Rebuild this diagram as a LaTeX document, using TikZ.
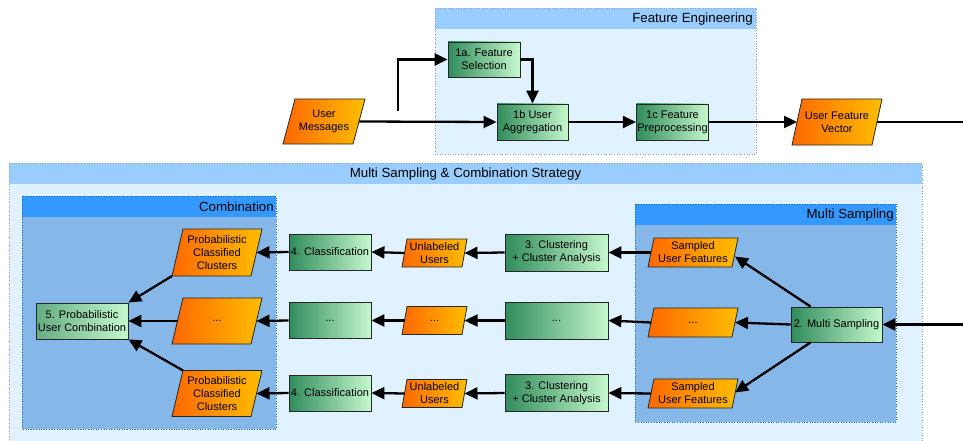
\documentclass[tikz,border=0pt]{standalone}
\usepackage{fontspec}
\setmainfont{Liberation Sans}
\usetikzlibrary{arrows.meta,calc}

\definecolor{grpHead}{RGB}{153,204,255}
\definecolor{grpBody}{RGB}{224,242,255}
\definecolor{subHead}{RGB}{51,153,255}
\definecolor{subBody}{RGB}{133,183,232}
\definecolor{grpEdge}{RGB}{150,165,185}
\definecolor{gDark}{RGB}{48,140,92}
\definecolor{gLight}{RGB}{198,248,205}
\definecolor{gMid}{RGB}{100,172,130}
\definecolor{oDark}{RGB}{255,104,0}
\definecolor{oLight}{RGB}{255,190,0}

\tikzset{
  nodefont/.style={font=\fontsize{11}{13}\selectfont},
  proc/.style={draw=black!85, line width=0.8pt, left color=gDark, right color=gLight,
    minimum height=36pt, align=center, inner sep=1pt, nodefont},
  dataFill/.style={draw=black!85, line width=0.8pt, left color=oDark, right color=oLight},
  dataText/.style={align=center, inner sep=1pt, nodefont},
  flow/.style={line width=2.3pt, -{Triangle[length=13pt,width=12pt]}},
  plain/.style={line width=2.3pt},
  grpframe/.style={draw=grpEdge, dotted, line width=0.6pt},
  titlefont/.style={font=\fontsize{13.3}{15}\selectfont},
  grptitle/.style={titlefont, anchor=east, inner sep=2pt}
}

% data item: slanted box with centred text
% #1 name, #2 x, #3 y, #4 width, #5 height, #6 slant offset, #7 text
\newcommand\datanode[7]{%
  \path[dataFill] (#2-#4/2, #3+#5/2) -- (#2-#4/2+#6, #3-#5/2) -- (#2+#4/2, #3-#5/2)
     -- (#2+#4/2-#6, #3+#5/2) -- cycle;
  \node[dataText] (#1) at (#2,#3) {#7};
  \coordinate (#1-e) at (#2+#4/2-#6/2, #3);
  \coordinate (#1-w) at (#2-#4/2+#6/2, #3);
  \coordinate (#1-bl) at (#2-#4/2, #3+#5/2);
  \coordinate (#1-tl) at (#2-#4/2+#6, #3-#5/2);
}

\begin{document}
\begin{tikzpicture}[x=1pt, y=-1pt]
\clip (0,0) rectangle (963,441);
\fill[white] (0,0) rectangle (963,441);

% ---------- group: feature engineering ----------
\fill[grpBody] (435,8) rectangle (756,154);
\fill[grpHead] (435,8) rectangle (756,29);
\draw[grpframe] (435,8) rectangle (756,154);
\node[grptitle] (feTitle) at (755,19) {Feature Engineering};

% ---------- group: multi sampling & combination ----------
\fill[grpBody] (9,163) rectangle (922,450);
\fill[grpHead] (9,163) rectangle (922,184);
\draw[grpframe] (9,163) rectangle (922,450);
\node[titlefont] (msTitle) at (465.5,174) {Multi Sampling \& Combination Strategy};

% sub group: combination
\fill[subBody] (22,196) rectangle (276,429);
\fill[subHead] (22,196) rectangle (276,217);
\draw[grpframe, draw=subHead!70!black] (22,196) rectangle (276,429);
\node[grptitle] (cbTitle) at (276,207) {Combination};

% sub group: multi sampling
\fill[subBody] (635,204) rectangle (896,422);
\fill[subHead] (635,204) rectangle (896,225);
\draw[grpframe, draw=subHead!70!black] (635,204) rectangle (896,422);
\node[grptitle] (msSubTitle) at (896,215) {Multi Sampling};

% ---------- top row ----------
\datanode{um}{324}{121.5}{82}{45}{12}{User\\Messages}
\node[proc, minimum width=72pt, minimum height=35pt] (fs) at (484,59.5) {1a. Feature\\Selection};
\node[proc, minimum width=71pt] (ua) at (532.5,122) {1b User\\Aggregation};
\node[proc, minimum width=71pt] (fp) at (672.5,122) {1c Feature\\Preprocessing};
\datanode{ufv}{837}{122}{90}{46}{10}{User Feature\\Vector}

\coordinate (br) at (398,111);
\coordinate (outR) at (966,122);
\coordinate (inR) at (966,324.5);

\draw[flow] (um-e) -- (ua.west);
\draw[flow] (br) |- (fs.west);
\draw[flow] (fs.east) -| (ua.north);
\draw[flow] (ua.east) -- (fp.west);
\draw[flow] (fp.east) -- (ufv-w);
\draw[plain] (ufv-e) -- (outR);

% ---------- sampling and combination rows ----------
\node[proc, minimum width=91pt, minimum height=35pt] (ms) at (836.5,324.5) {2. Multi Sampling};

\tikzset{
  clu/.style={proc, minimum width=103pt, minimum height=37pt},
  cla/.style={proc, minimum width=82pt}
}

\datanode{s1}{693}{252.5}{90}{29}{6}{Sampled\\User Features}
\datanode{s2}{693}{322.5}{90}{29}{6}{...}
\datanode{s3}{693}{393.5}{90}{29}{6}{Sampled\\User Features}

\node[clu] (k1) at (556.5,252.5) {3. Clustering\\+ Cluster Analysis};
\node[clu] (k2) at (556.5,320.5) {...};
\node[clu] (k3) at (556.5,393) {3. Clustering\\+ Cluster Analysis};

\datanode{u1}{434.5}{253}{65}{28}{5}{Unlabeled\\Users}
\datanode{u2}{434.5}{320.5}{65}{28}{5}{...}
\datanode{u3}{434.5}{393.5}{65}{28}{5}{Unlabeled\\Users}

\node[cla] (c1) at (330,252) {4. Classification};
\node[cla] (c2) at (330,320.5) {...};
\node[cla] (c3) at (330,393) {4. Classification};

\datanode{p1}{217}{252.5}{90}{47}{11}{Probabilistic\\Classified\\Clusters}
\datanode{p2}{217}{321}{90}{46}{11}{...}
\datanode{p3}{217}{393.5}{90}{46}{11}{Probabilistic\\Classified\\Clusters}

\node[proc, left color=gMid, minimum width=92pt] (uc) at (82,321) {5. Probabilistic\\User Combination};

\coordinate (msTop) at ($(ms.north west)+(20,0)$);
\coordinate (msBot) at ($(ms.south west)+(20,0)$);
\coordinate (s1hit) at ($(s1-e)+(0,4)$);
\coordinate (s3hit) at ($(s3-e)+(0,-1)$);

\draw[flow] (inR) -- (ms.east);
\draw[flow] (msTop) -- (s1hit);
\draw[flow] (ms.west) -- (s2-e);
\draw[flow] (msBot) -- (s3hit);

\foreach \r in {1,2,3} {
  \draw[flow] (s\r-w) -- (k\r.east);
  \draw[flow] (k\r.west) -- (u\r-e);
  \draw[flow] (u\r-w) -- (c\r.east);
  \draw[flow] (c\r.west) -- (p\r-e);
}

\draw[flow] (p1-bl) -- (uc.north east);
\draw[flow] (p2-w) -- (uc.east);
\draw[flow] (p3-tl) -- (uc.south east);
\end{tikzpicture}
\end{document}
